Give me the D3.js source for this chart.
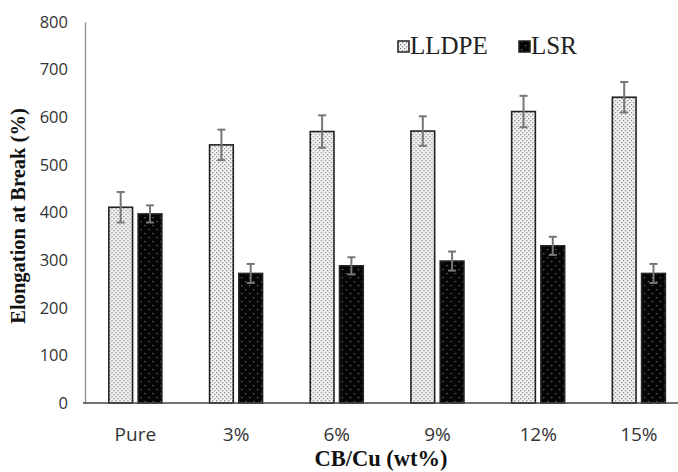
<!DOCTYPE html>
<html>
<head>
<meta charset="utf-8">
<script src="https://cdn.jsdelivr.net/npm/d3@7"></script>
<style>
  body { margin: 0; background: #fff; }
  svg { display: block; }
</style>
</head>
<body>
<div id="chart"></div>
<script>
// values
const categories = ["Pure", "3%", "6%", "9%", "12%", "15%"];
const series = ["LLDPE", "LSR"];
const lldpe = [411, 542, 570, 571, 612, 642];
const lldpeErr = [32, 32, 34, 31, 33, 32];
const lsr = [397, 272, 288, 298, 330, 272];
const lsrErr = [18, 20, 18, 20, 19, 20];
const yTicks = [0, 100, 200, 300, 400, 500, 600, 700, 800];

const width = 678, height = 472;
const plotLeft = 85, plotTop = 22, plotBottom = 403;

let svg = d3.select("#chart").append("svg")
    .attr("width", width)
    .attr("height", height);

let defs = svg.append("defs");

// light dotted fill for LLDPE
let p1 = defs.append("pattern")
    .attr("id", "dotsLight")
    .attr("width", 4).attr("height", 4)
    .attr("patternUnits", "userSpaceOnUse");
p1.append("rect").attr("width", 4).attr("height", 4).attr("fill", "#f4f4f4");
p1.append("rect").attr("x", 0).attr("y", 0).attr("width", 1.3).attr("height", 1.3).attr("fill", "#8a8a8a");
p1.append("rect").attr("x", 2).attr("y", 2).attr("width", 1.3).attr("height", 1.3).attr("fill", "#8a8a8a");

// dark fill with sparse dots for LSR
let p2 = defs.append("pattern")
    .attr("id", "dotsDark")
    .attr("width", 8).attr("height", 8)
    .attr("patternUnits", "userSpaceOnUse");
p2.append("rect").attr("width", 8).attr("height", 8).attr("fill", "#050505");
p2.append("rect").attr("x", 1).attr("y", 1).attr("width", 1.2).attr("height", 1.2).attr("fill", "#777");
p2.append("rect").attr("x", 5).attr("y", 5).attr("width", 1.2).attr("height", 1.2).attr("fill", "#777");

let y = d3.scaleLinear()
    .domain([0, 800])
    .range([plotBottom, plotTop]);

let x0 = d3.scaleBand()
    .domain(categories)
    .range([plotLeft, plotLeft + 6 * 100.7]);

let x1 = d3.scaleBand()
    .domain(series)
    .range([-26.5, 26.5])
    .paddingInner(0.19);

// y axis
let yAxis = svg.append("g")
    .attr("transform", `translate(${plotLeft},0)`)
    .call(d3.axisLeft(y).tickValues(yTicks).tickSize(0).tickPadding(17));
yAxis.select(".domain").attr("stroke", "#8c8c8c").attr("stroke-width", 1.3);
yAxis.selectAll("text")
    .attr("font-family", "Open Sans, sans-serif")
    .attr("font-size", 16.5)
    .attr("fill", "#333");

// x axis
let xAxis = svg.append("g")
    .attr("transform", `translate(0,${plotBottom})`)
    .call(d3.axisBottom(x0).tickSize(0).tickPadding(25));
xAxis.select(".domain").remove();
xAxis.selectAll("text")
    .attr("font-family", "Open Sans, sans-serif")
    .attr("font-size", 19)
    .attr("fill", "#333");

let rows = categories.map((c, i) => ({
    cat: c,
    vals: [
        {s: "LLDPE", v: lldpe[i], e: lldpeErr[i], fill: "url(#dotsLight)"},
        {s: "LSR", v: lsr[i], e: lsrErr[i], fill: "url(#dotsDark)"}
    ]
}));

let groups = svg.selectAll("g.grp")
    .data(rows)
    .enter().append("g")
    .attr("class", "grp")
    .attr("transform", d => `translate(${x0(d.cat) + x0.bandwidth() / 2},0)`);

groups.selectAll("rect")
    .data(d => d.vals)
    .enter().append("rect")
    .attr("x", d => x1(d.s))
    .attr("width", x1.bandwidth())
    .attr("y", d => y(d.v))
    .attr("height", d => y(0) - y(d.v))
    .attr("fill", d => d.fill)
    .attr("stroke", "#222")
    .attr("stroke-width", 1.6);

// error bars
let eb = groups.selectAll("g.err")
    .data(d => d.vals)
    .enter().append("g")
    .attr("class", "err")
    .attr("stroke", "#777")
    .attr("stroke-width", 2);
eb.append("line")
    .attr("x1", d => x1(d.s) + x1.bandwidth() / 2)
    .attr("x2", d => x1(d.s) + x1.bandwidth() / 2)
    .attr("y1", d => y(d.v - d.e))
    .attr("y2", d => y(d.v + d.e));
eb.append("line")
    .attr("x1", d => x1(d.s) + x1.bandwidth() / 2 - 4)
    .attr("x2", d => x1(d.s) + x1.bandwidth() / 2 + 4)
    .attr("y1", d => y(d.v + d.e))
    .attr("y2", d => y(d.v + d.e));
eb.append("line")
    .attr("x1", d => x1(d.s) + x1.bandwidth() / 2 - 4)
    .attr("x2", d => x1(d.s) + x1.bandwidth() / 2 + 4)
    .attr("y1", d => y(d.v - d.e))
    .attr("y2", d => y(d.v - d.e));

// baseline
svg.append("line")
    .attr("x1", plotLeft - 2).attr("x2", width)
    .attr("y1", y(0)).attr("y2", y(0))
    .attr("stroke", "#444")
    .attr("stroke-width", 1.6);

// legend
let legend = svg.append("g")
    .attr("font-family", "Liberation Serif, Times New Roman, serif")
    .attr("font-size", 25)
    .attr("fill", "#222");
let legendItems = [
    {s: "LLDPE", x: 398, fill: "url(#dotsLight)"},
    {s: "LSR", x: 519, fill: "url(#dotsDark)"}
];
legendItems.forEach(it => {
    legend.append("rect")
        .attr("x", it.x).attr("y", 41)
        .attr("width", 11).attr("height", 11)
        .attr("fill", it.fill)
        .attr("stroke", "#222").attr("stroke-width", 1.5);
    legend.append("text")
        .attr("x", it.x + 12).attr("y", 54)
        .text(it.s);
});

// axis titles
svg.append("text")
    .attr("transform", "translate(25,216) rotate(-90)")
    .attr("text-anchor", "middle")
    .attr("font-family", "Liberation Serif, Times New Roman, serif")
    .attr("font-weight", "bold")
    .attr("font-size", 20.5)
    .attr("fill", "#111")
    .text("Elongation at Break (%)");

svg.append("text")
    .attr("x", 381)
    .attr("y", 466)
    .attr("text-anchor", "middle")
    .attr("font-family", "Liberation Serif, Times New Roman, serif")
    .attr("font-weight", "bold")
    .attr("font-size", 22.5)
    .attr("fill", "#111")
    .text("CB/Cu (wt%)");
</script>
</body>
</html>
